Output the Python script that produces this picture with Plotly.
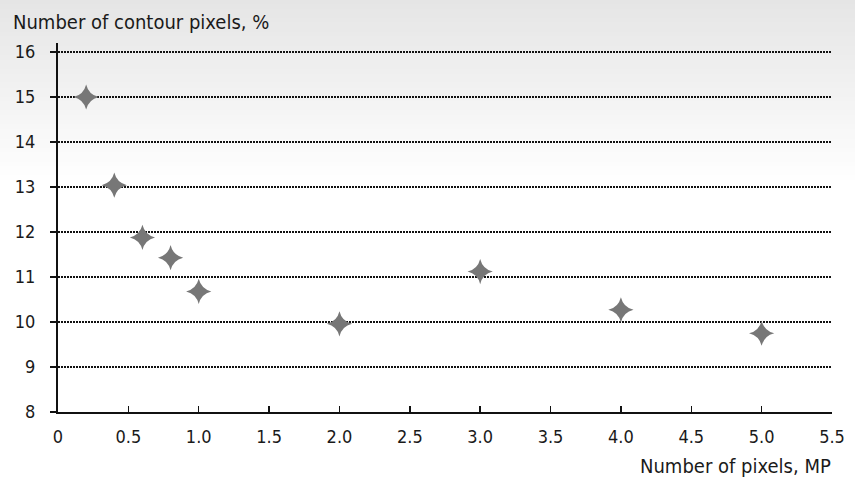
import plotly.graph_objects as go

x_mp = [0.2, 0.4, 0.6, 0.8, 1.0, 2.0, 3.0, 4.0, 5.0]
contour_pct = [15.0, 13.04, 11.88, 11.43, 10.68, 9.96, 11.12, 10.27, 9.75]
x_ticks = [0, 0.5, 1.0, 1.5, 2.0, 2.5, 3.0, 3.5, 4.0, 4.5, 5.0, 5.5]
x_tick_labels = ["0", "0.5", "1.0", "1.5", "2.0", "2.5", "3.0", "3.5", "4.0", "4.5", "5.0", "5.5"]
y_ticks = [8, 9, 10, 11, 12, 13, 14, 15, 16]

FONT = "Liberation Sans Narrow, DejaVu Sans Condensed, Roboto, sans-serif"
W, H = 855, 486
L, R, T, B = 58, 23, 43, 74
pw = W - L - R
ph = H - T - B

fig = go.Figure()
fig.add_trace(go.Scatter(
    x=x_mp, y=contour_pct, mode="markers",
    marker=dict(symbol="star-diamond", size=18, color="#777777", line=dict(width=0)),
    showlegend=False, cliponaxis=False, hoverinfo="skip",
))

# background gradient strips (paper coordinates)
shapes = []
n = 40
top_px, end_px = 0, 185
for i in range(n):
    y0p = top_px + (end_px - top_px) * i / n
    y1p = top_px + (end_px - top_px) * (i + 1) / n
    t = (i + 0.5) / n
    v = int(round(229 + (255 - 229) * t))
    shapes.append(dict(
        type="rect", xref="paper", yref="paper", layer="below",
        x0=-L / pw - 0.01, x1=1 + R / pw + 0.01,
        y0=(H - B - y1p - 0.5) / ph, y1=(H - B - y0p + 0.5) / ph,
        fillcolor=f"rgb({v},{v},{v})", line=dict(width=0),
    ))

fig.update_layout(
    width=W, height=H,
    margin=dict(l=L, r=R, t=T, b=B, autoexpand=False),
    paper_bgcolor="white", plot_bgcolor="rgba(0,0,0,0)",
    font=dict(family=FONT, size=18, color="#1a1a1a"),
    shapes=shapes,
    xaxis=dict(
        range=[0, 5.5], tickvals=x_ticks, ticktext=x_tick_labels,
        showgrid=False, zeroline=False, automargin=False,
        showline=True, linecolor="#111111", linewidth=2,
        ticks="inside", ticklen=6, tickwidth=1.5, tickcolor="#111111",
        tickfont=dict(size=18), ticklabelstandoff=7, fixedrange=True,
    ),
    yaxis=dict(
        range=[8, 16.2], tickvals=y_ticks, automargin=False,
        showgrid=True, gridcolor="#111111", gridwidth=1.5, griddash="1.5px,1.5px",
        zeroline=False,
        showline=True, linecolor="#111111", linewidth=2,
        ticks="outside", ticklen=6, tickwidth=1.5, tickcolor="#111111",
        tickfont=dict(size=18), ticklabelstandoff=11, fixedrange=True,
    ),
    annotations=[
        dict(text="Number of contour pixels, %", xref="paper", yref="paper",
             x=(11 - L) / pw, y=(H - B - 22) / ph,
             xanchor="left", yanchor="middle", showarrow=False,
             font=dict(size=20, family=FONT, color="#1a1a1a")),
        dict(text="Number of pixels, MP", xref="paper", yref="paper",
             x=1 + 1 / pw, y=(H - B - 466) / ph,
             xanchor="right", yanchor="middle", showarrow=False,
             font=dict(size=20, family=FONT, color="#1a1a1a")),
    ],
)

fig.write_html(
    "out.html",
    config={"displayModeBar": False, "staticPlot": True},
    post_script="document.body.style.margin='0';document.body.style.overflow='hidden';",
)
